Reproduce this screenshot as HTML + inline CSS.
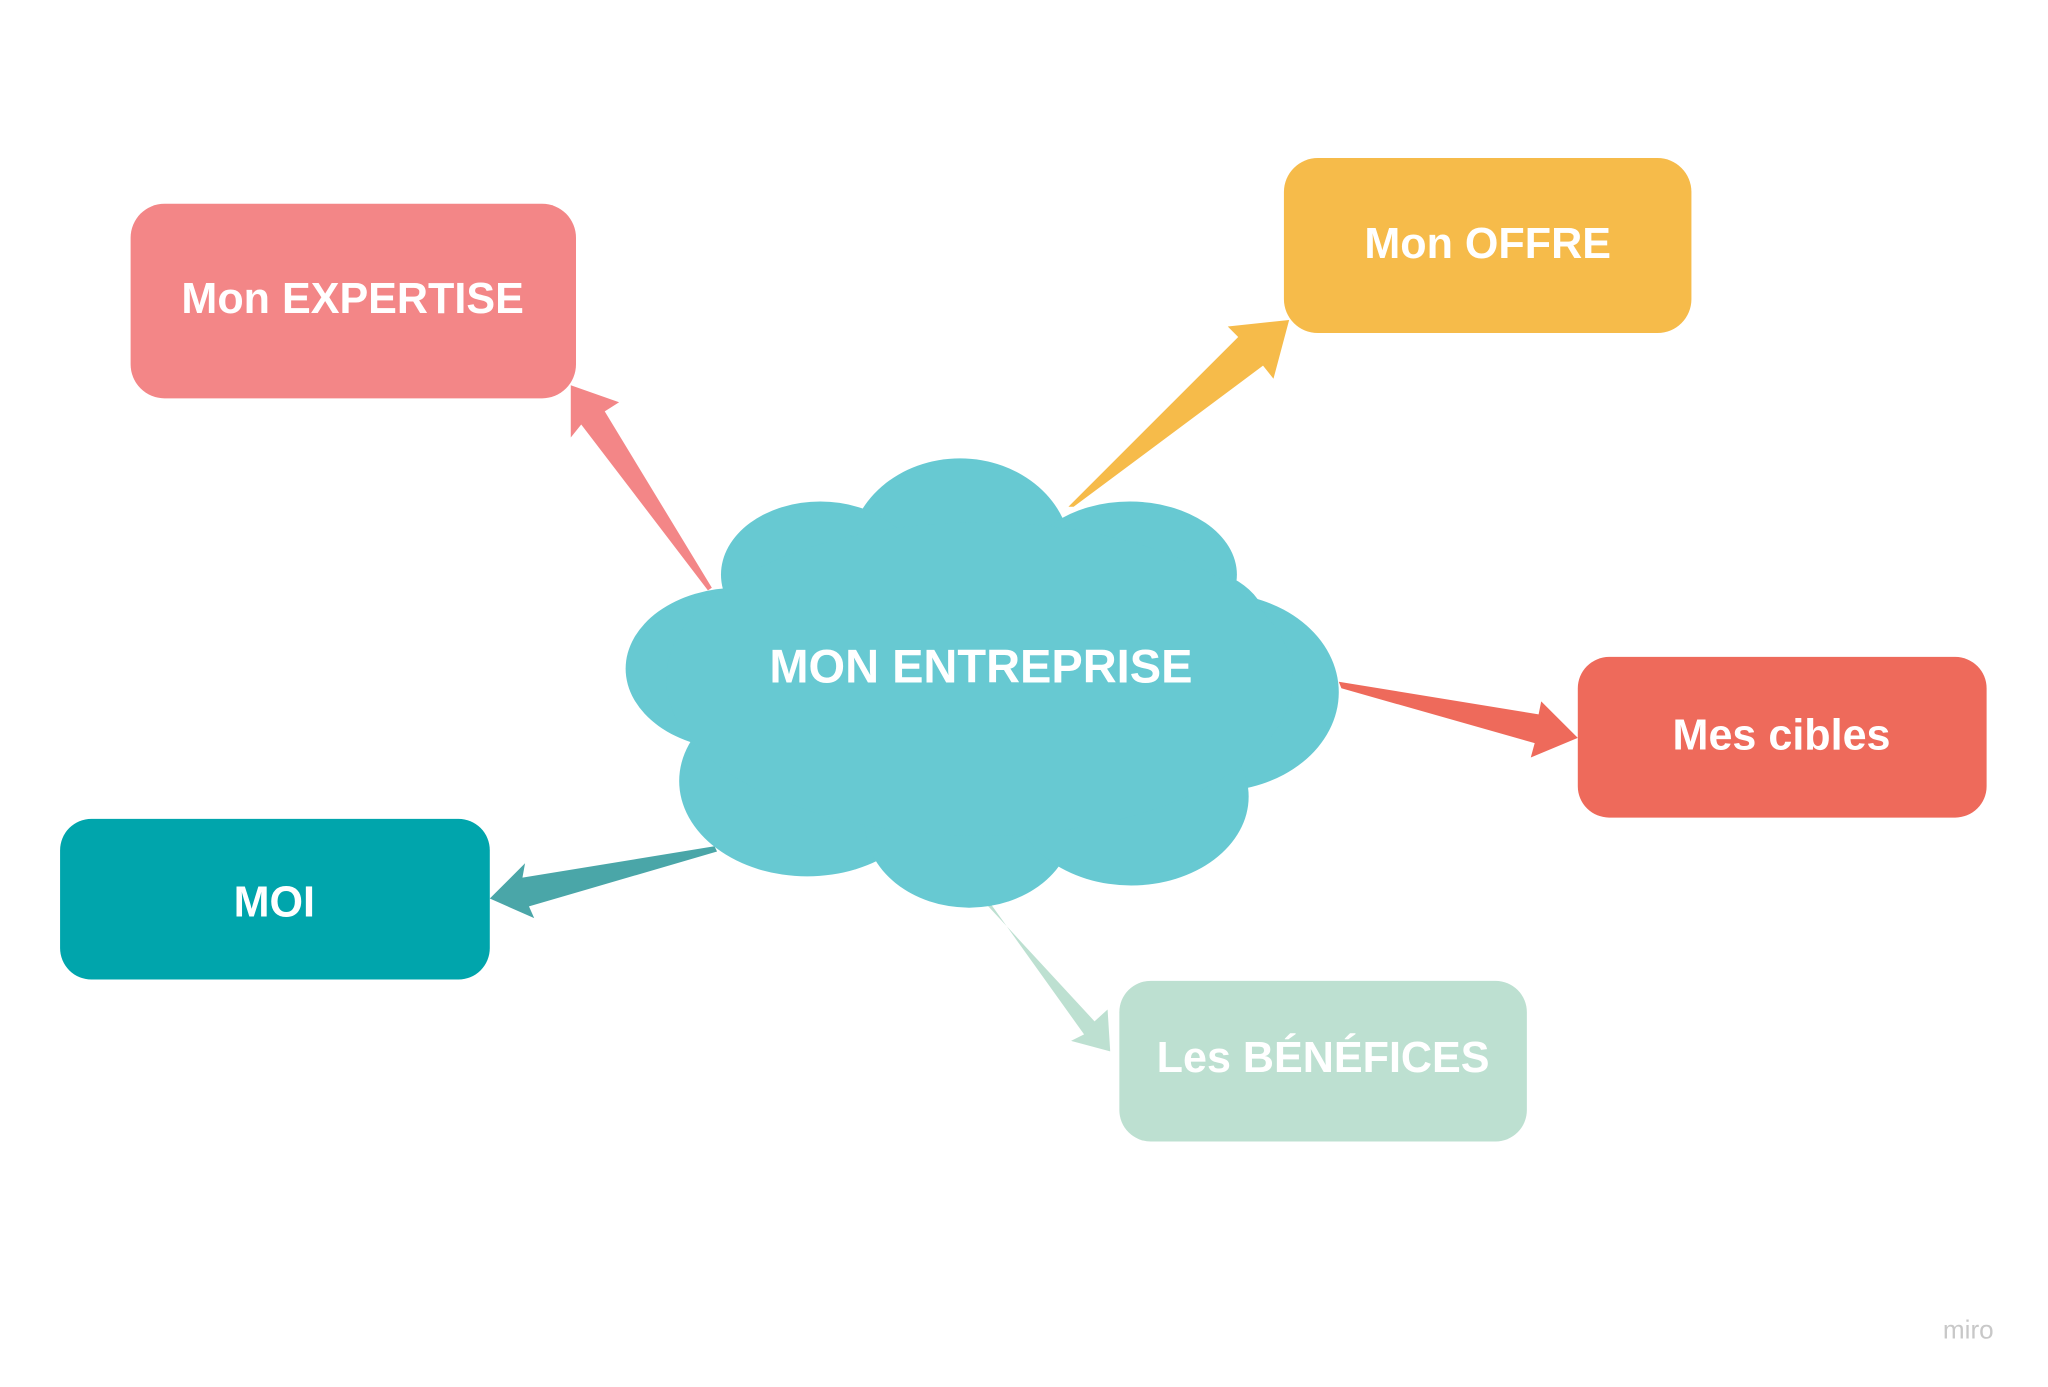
<!DOCTYPE html>
<html><head><meta charset="utf-8"><style>
html,body{margin:0;padding:0;background:#fff;}
svg{display:block;}
text{font-family:"Liberation Sans",sans-serif;font-weight:bold;fill:#fff;text-anchor:middle;dominant-baseline:central;}
</style></head><body>
<svg width="2048" height="1387" viewBox="0 0 1568 1062" preserveAspectRatio="none" xmlns="http://www.w3.org/2000/svg">
<rect width="1568" height="1062" fill="#fff"/>
<!-- arrows -->
<polygon points="542,452 445,325 437,335 437,295 474,308 463,315 545,450" fill="#f38687"/>
<polygon points="818,388 948,258 940,250 987,245 975,290 967,280 822,388" fill="#f6bb4a"/>
<polygon points="1025,522 1178,547 1180,537 1208,565 1172,580 1175,569 1027,527" fill="#ee6a5b"/>
<polygon points="547,648 400,672 402,661 375,688 409,703 405,694 549,652" fill="#4aa6a8"/>
<polygon points="753,690 838,782 848,773 850,805 820,797 830,792 757,690" fill="#bde0d1"/>
<!-- cloud -->
<g fill="#67c9d2">
<ellipse cx="735" cy="425" rx="85" ry="74"/>
<ellipse cx="628" cy="440" rx="76" ry="56"/>
<ellipse cx="865" cy="440" rx="82" ry="56"/>
<ellipse cx="565" cy="512" rx="86" ry="62"/>
<ellipse cx="930" cy="530" rx="95" ry="76"/>
<ellipse cx="910" cy="480" rx="60" ry="45"/>
<ellipse cx="618" cy="598" rx="98" ry="73"/>
<ellipse cx="742" cy="630" rx="80" ry="65"/>
<ellipse cx="866" cy="610" rx="90" ry="68"/>
<ellipse cx="750" cy="520" rx="240" ry="120"/>
</g>
<text x="751" y="510" font-size="36">MON ENTREPRISE</text>
<!-- boxes -->
<rect x="100" y="156" width="341" height="149" rx="26" fill="#f38687"/>
<text x="270" y="229" font-size="33">Mon EXPERTISE</text>
<rect x="983" y="121" width="312" height="134" rx="26" fill="#f6bb4a"/>
<text x="1139" y="187" font-size="33">Mon OFFRE</text>
<rect x="1208" y="503" width="313" height="123" rx="24" fill="#ee6a5b"/>
<text x="1364" y="563" font-size="33">Mes cibles</text>
<rect x="46" y="627" width="329" height="123" rx="24" fill="#00a5ac"/>
<text x="210" y="691" font-size="33">MOI</text>
<rect x="857" y="751" width="312" height="123" rx="24" fill="#bde0d1"/>
<text x="1013" y="810" font-size="33">Les BÉNÉFICES</text>
<text x="1507" y="1018" font-size="20" style="font-weight:normal;fill:#c8c8c8">miro</text>
</svg>
</body></html>
